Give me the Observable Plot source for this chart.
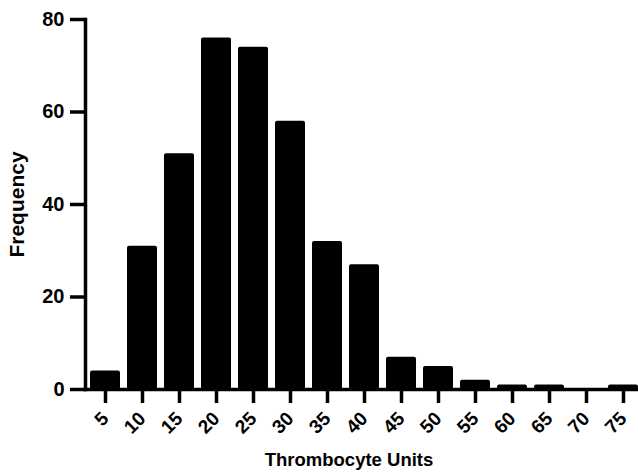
<!DOCTYPE html>
<html>
<head>
<meta charset="utf-8">
<script src="https://cdn.jsdelivr.net/npm/d3@7"></script>
<script src="https://cdn.jsdelivr.net/npm/@observablehq/plot@0.6"></script>
<style>
  html, body { margin: 0; padding: 0; background: #fff; }
  #chart svg { display: block; }
</style>
</head>
<body>
<div id="chart"></div>
<script>
const units = ["5","10","15","20","25","30","35","40","45","50","55","60","65","70","75"];
const frequency = [4,31,51,76,74,58,32,27,7,5,2,1,1,0,1];
const yTicks = [0,20,40,60,80];
const xTitle = "Thrombocyte Units";
const yTitle = "Frequency";

const data = units.map((u, i) => ({unit: u, freq: frequency[i]}));
const font = "'Liberation Sans', Arial, Helvetica, sans-serif";

const chart = Plot.plot({
  width: 638,
  height: 472,
  marginLeft: 85,
  marginRight: 0,
  marginTop: 19,
  marginBottom: 83,
  style: {fontFamily: font, fontWeight: "bold", fontSize: "18px", color: "#000", background: "#fff"},
  x: {domain: units, paddingInner: 0.19, paddingOuter: 0.0676, align: 1, label: null},
  y: {domain: [0, 80], label: null},
  marks: [
    Plot.barY(data, {x: "unit", y: "freq", fill: "#000", rx: 2}),
    Plot.frame({anchor: "left", stroke: "#000", strokeWidth: 3.5}),
    Plot.frame({anchor: "bottom", stroke: "#000", strokeWidth: 3.5}),
    Plot.axisY(yTicks, {tickSize: 15, tickPadding: 6, strokeWidth: 3.5, fontSize: 20, fontWeight: "bold", label: null}),
    Plot.axisX({tickSize: 14, tickPadding: 12, strokeWidth: 3.5, tickRotate: -45, fontSize: 19, fontWeight: "bold", label: null}),
    Plot.text([xTitle], {frameAnchor: "bottom", dy: 76, dx: -13, lineAnchor: "bottom", fontSize: 18.5, fontWeight: "bold"}),
    Plot.text([yTitle], {frameAnchor: "left", dx: -68, textAnchor: "middle", rotate: -90, fontSize: 21, fontWeight: "bold"})
  ]
});
document.getElementById("chart").appendChild(chart);
</script>
</body>
</html>
